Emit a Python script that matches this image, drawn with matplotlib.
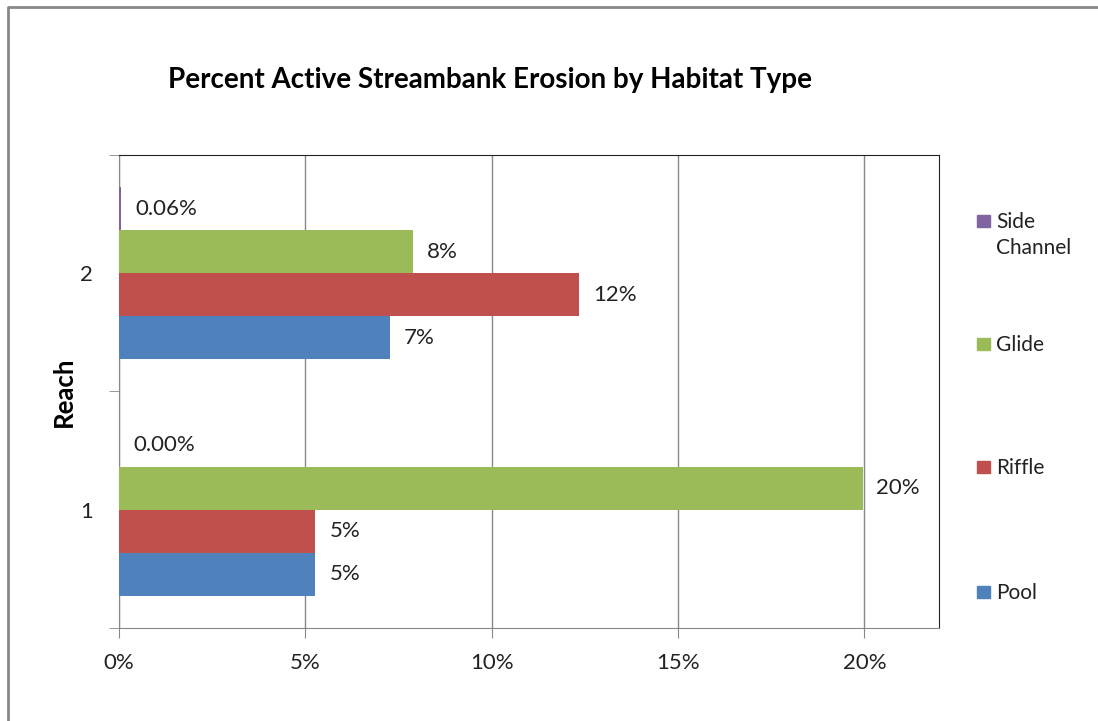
import matplotlib
matplotlib.use("Agg")
import matplotlib.pyplot as plt
from matplotlib.patches import Rectangle
import numpy as np

plt.rcParams['font.family'] = ['Lato', 'DejaVu Sans']

# data (percent of bank length actively eroding)
reaches = ["1", "2"]
series = ["Pool", "Riffle", "Glide", "Side Channel"]
pool = [5.27, 7.27]
riffle = [5.27, 12.35]
glide = [19.95, 7.88]
side_channel = [0.0, 0.06]
bar_labels = [["5%", "7%"], ["5%", "12%"], ["20%", "8%"], ["0.00%", "0.06%"]]
legend_labels = ["Pool", "Riffle", "Glide", "Side\nChannel"]
x_ticks = [0, 5, 10, 15, 20]
x_ticklabels = ["0%", "5%", "10%", "15%", "20%"]

colors = ["#4F81BD", "#C0504D", "#9BBB59", "#8064A2"]
values = [pool, riffle, glide, side_channel]

W, H = 1098, 721
fig = plt.figure(figsize=(W / 100, H / 100), dpi=100)
ax = fig.add_axes([119 / W, 1 - 628 / H, (939 - 119) / W, (628 - 155) / H])

y = np.arange(1, len(reaches) + 1)
h = 0.182
for i, (vals, col) in enumerate(zip(values, colors)):
    pos = y + (i - 1.5) * h
    ax.barh(pos, vals, height=h, color=col, zorder=3)
    for p, v, lab in zip(pos, vals, bar_labels[i]):
        ax.annotate(lab, (v, p), xytext=(10, 0), textcoords="offset points",
                    va="center", ha="left", fontsize=16, color="#222222")

ax.set_xlim(0, 22)
ax.set_ylim(0.5, 2.5)
ax.set_xticks(x_ticks)
ax.set_xticklabels(x_ticklabels, fontsize=16, color="#222222")
ax.set_yticks(y)
ax.set_yticklabels(reaches, fontsize=16, color="#222222")
ax.set_yticks([0.5, 1.5, 2.5], minor=True)
ax.tick_params(axis="y", which="major", length=0, pad=19)
ax.tick_params(axis="y", which="minor", length=7, color="#888888", direction="out")
ax.tick_params(axis="x", length=7, color="#888888", pad=11)
ax.grid(axis="x", color="#888888", linewidth=1, zorder=0)

for s in ["left", "bottom"]:
    ax.spines[s].set_color("#888888")
for s in ["top", "right"]:
    ax.spines[s].set_color("#222222")

ax.set_ylabel("Reach", fontsize=18.5, fontweight="bold", labelpad=3)
fig.text(490 / W, 1 - 80 / H, "Percent Active Streambank Erosion by Habitat Type",
         ha="center", va="center", fontsize=20, fontweight="bold")

# legend, laid out like the spreadsheet one
leg_y = [592, 467, 344, 221]
for col, lab, ly in zip(colors, legend_labels, leg_y):
    fig.patches.append(Rectangle((977 / W, 1 - (ly + 6) / H), 13 / W, 12 / H,
                                 transform=fig.transFigure, color=col))
    fig.text(996 / W, 1 - (ly - 9) / H, lab, ha="left", va="top",
             fontsize=15, color="#222222", linespacing=1.35)

# outer chart border (only left and top edges fall inside the picture)
fig.add_artist(plt.Line2D([8 / W, 8 / W, 1.0], [0.0, 1 - 7 / H, 1 - 7 / H],
                          transform=fig.transFigure, color="#888888",
                          linewidth=2))

fig.savefig("out.png", dpi=100)
